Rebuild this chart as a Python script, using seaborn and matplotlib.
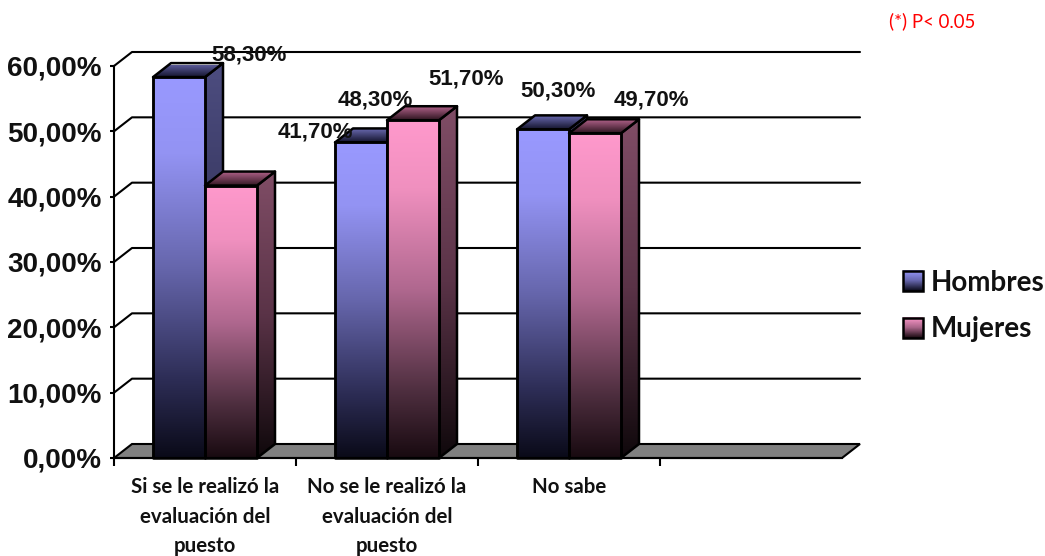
import numpy as np
import pandas as pd
import seaborn as sns
import matplotlib
matplotlib.use("Agg")
import matplotlib.pyplot as plt
from matplotlib.colors import LinearSegmentedColormap as LSC
from matplotlib.patches import Polygon, Patch, Rectangle
from matplotlib.lines import Line2D
from matplotlib.image import BboxImage
from matplotlib.transforms import Bbox, TransformedBbox
from matplotlib.legend_handler import HandlerBase
from matplotlib.ticker import FuncFormatter, FixedLocator

# ---- data ----
categories = ["Si se le realizó la\nevaluación del\npuesto",
              "No se le realizó la\nevaluación del\npuesto",
              "No sabe"]
series_names = ["Hombres", "Mujeres"]
hombres = [58.3, 48.3, 50.3]
mujeres = [41.7, 51.7, 49.7]
y_ticks = [0, 10, 20, 30, 40, 50, 60]

# ---- layout (pixels in the 1045x556 figure) ----
W, H = 1045, 556
AX_L, AX_R, AX_B, AX_T = 114, 842, 458, 66
DEPTH_PX_X, DEPTH_PX_Y = 18, 14
label_offsets_px = [(70, 22), (84, 54), (14, 42), (53, 41), (15, 38), (56, 33)]

LW = 1.5
BAR_LW = 1.8
LABEL_FONT = "Liberation Sans"
CALIBRI_LIKE = "Lato"

def grad(*stops):
    return LSC.from_list("g", list(stops))

front_cmaps = [
    grad((0, "#9999FF"), (.2, "#9393F3"), (.5, "#6666AC"), (.8, "#2C2C54"), (1, "#0A0A18")),
    grad((0, "#FF99CC"), (.2, "#F090BF"), (.5, "#B0688F"), (.8, "#4F2F40"), (1, "#180A10")),
]
side_cmaps = [
    grad((0, "#4D4D80"), (.5, "#33335A"), (1, "#08080F")),
    grad((0, "#804D66"), (.5, "#5A3347"), (1, "#0F080B")),
]
top_cmaps = [
    grad((0, "#6C6CB4"), (1, "#15152E")),
    grad((0, "#B4648C"), (1, "#2E1520")),
]

sns.set_theme(style="white")
plt.rcParams["font.family"] = [LABEL_FONT, "DejaVu Sans"]

df = pd.DataFrame({
    "categoria": categories * 2,
    "sexo": np.repeat(series_names, len(categories)),
    "porcentaje": hombres + mujeres,
})

fig = plt.figure(figsize=(W / 100, H / 100), dpi=100, facecolor="white")
ax = fig.add_axes([AX_L / W, 1 - AX_B / H, (AX_R - AX_L) / W, (AX_B - AX_T) / H])

bar_w_total = 104 / 182
sns.barplot(data=df, x="categoria", y="porcentaje", hue="sexo", hue_order=series_names,
            order=categories, width=bar_w_total, dodge=True, errorbar=None, saturation=1,
            palette=["#9999FF", "#FF99CC"], edgecolor="black", linewidth=BAR_LW,
            legend=False, ax=ax)

ax.set_xlim(-0.5, 3.5)
ax.set_ylim(0, 60)
ax.set_facecolor("none")
ax.set_xlabel("")
ax.set_ylabel("")

dx = DEPTH_PX_X / ((AX_R - AX_L) / 4)
dy = DEPTH_PX_Y / ((AX_B - AX_T) / 60)


def gradient_poly(pts, cmap, z):
    poly = Polygon(pts, closed=True, facecolor="none", edgecolor="black",
                   linewidth=BAR_LW, zorder=z + 0.2, clip_on=False, joinstyle="round")
    ax.add_patch(poly)
    xs = [p[0] for p in pts]
    ys = [p[1] for p in pts]
    im = ax.imshow(np.linspace(0, 1, 256)[:, None], cmap=cmap, vmin=0, vmax=1, aspect="auto",
                   origin="upper", extent=(min(xs), max(xs), min(ys), max(ys)), zorder=z,
                   interpolation="bilinear")
    im.set_clip_box(None)
    im.set_clip_path(poly)


# back wall: floor, gridlines and their connectors
floor = Polygon([(-0.5, 0), (-0.5 + dx, dy), (3.5 + dx, dy), (3.5, 0)], closed=True,
                facecolor="#808080", edgecolor="black", linewidth=LW, zorder=1, clip_on=False)
ax.add_patch(floor)
for t in y_ticks[1:]:
    ax.add_line(Line2D([-0.5, -0.5 + dx, 3.5 + dx], [t, t + dy, t + dy], color="black",
                       linewidth=LW, zorder=1, clip_on=False))

# 3D faces over each seaborn bar
z = 2.0
order = []
for s, cont in enumerate(ax.containers):
    for i, bar in enumerate(cont):
        order.append((i, s, bar))
order.sort(key=lambda t: (t[0], t[1]))
for i, s, bar in order:
    x0, x1 = bar.get_x(), bar.get_x() + bar.get_width()
    v = bar.get_height()
    gradient_poly([(x1, 0), (x1 + dx, dy), (x1 + dx, v + dy), (x1, v)], side_cmaps[s], z)
    gradient_poly([(x0, v), (x1, v), (x1 + dx, v + dy), (x0 + dx, v + dy)], top_cmaps[s], z + 0.3)
    gradient_poly([(x0, 0), (x1, 0), (x1, v), (x0, v)], front_cmaps[s], z + 0.6)
    bar.set_facecolor("none")
    bar.set_zorder(z + 0.9)
    z += 1

ax.set_xlim(-0.5, 3.5)
ax.set_ylim(0, 60)

# data labels
for (i, s, bar), off in zip(order, label_offsets_px):
    v = bar.get_height()
    ax.annotate(f"{v:.2f}%".replace(".", ","),
                xy=(bar.get_x() + bar.get_width() / 2, v), xytext=off,
                textcoords="offset pixels", ha="center", va="center",
                fontsize=16, fontweight="bold", color="#111111",
                fontfamily=LABEL_FONT, zorder=50, annotation_clip=False)

# axes lines and ticks
sns.despine(ax=ax, top=True, right=True)
for sp in ("left", "bottom"):
    ax.spines[sp].set_linewidth(LW)
    ax.spines[sp].set_color("black")
    ax.spines[sp].set_zorder(40)

ax.yaxis.set_major_locator(FixedLocator(y_ticks))
ax.yaxis.set_major_formatter(FuncFormatter(lambda v, _: f"{v:.2f}%".replace(".", ",")))
ax.tick_params(axis="y", which="major", left=True, length=3, width=LW, color="black", pad=6,
               labelsize=20, labelcolor="#111111")
for lab in ax.get_yticklabels():
    lab.set_fontweight("bold")
    lab.set_fontfamily(LABEL_FONT)

ax.set_xticks(range(len(categories)))
ax.set_xticklabels(categories, fontfamily=CALIBRI_LIKE, fontweight="bold", fontsize=14.8,
                   color="#111111", linespacing=1.58)
ax.tick_params(axis="x", which="major", bottom=False, length=0, pad=14)
ax.xaxis.set_minor_locator(FixedLocator([-0.5, 0.5, 1.5, 2.5]))
ax.tick_params(axis="x", which="minor", bottom=True, length=6, width=LW, color="black")


# legend with gradient swatches
class GradientHandler(HandlerBase):
    def __init__(self, cmap):
        super().__init__()
        self.cmap = cmap

    def create_artists(self, legend, orig, xd, yd, width, height, fontsize, trans):
        bb = TransformedBbox(Bbox.from_bounds(-xd, -yd, width, height), trans)
        im = BboxImage(bb, cmap=self.cmap, norm=plt.Normalize(0, 1), interpolation="bilinear",
                       origin="upper")
        im.set_data(np.linspace(0, 1, 64)[:, None])
        rect = Rectangle((-xd, -yd), width, height, facecolor="none", edgecolor="black",
                         linewidth=BAR_LW, transform=trans)
        return [im, rect]


handles = [Patch(label=n) for n in series_names]
leg_cmaps = [grad("#9999FF", "#6666AC", "#0A0A18"), grad("#FF99CC", "#A86488", "#180A10")]
fs = 20
leg = fig.legend(handles=handles,
                 handler_map={h: GradientHandler(c) for h, c in zip(handles, leg_cmaps)},
                 loc="center left", bbox_to_anchor=(903 / W, 1 - 306 / H), frameon=False,
                 borderpad=0, borderaxespad=0, handlelength=14.4 / fs, handleheight=15 / fs,
                 handletextpad=0.27, labelspacing=0.75,
                 prop={"family": CALIBRI_LIKE, "weight": "bold", "size": fs})
for t in leg.get_texts():
    t.set_color("#111111")

# note
fig.text(889 / W, 1 - 21 / H, "(*) P< 0.05", color="#FF0000", fontsize=13.4, family=CALIBRI_LIKE,
         ha="left", va="center")

fig.savefig("out.png", dpi=100, facecolor="white")
